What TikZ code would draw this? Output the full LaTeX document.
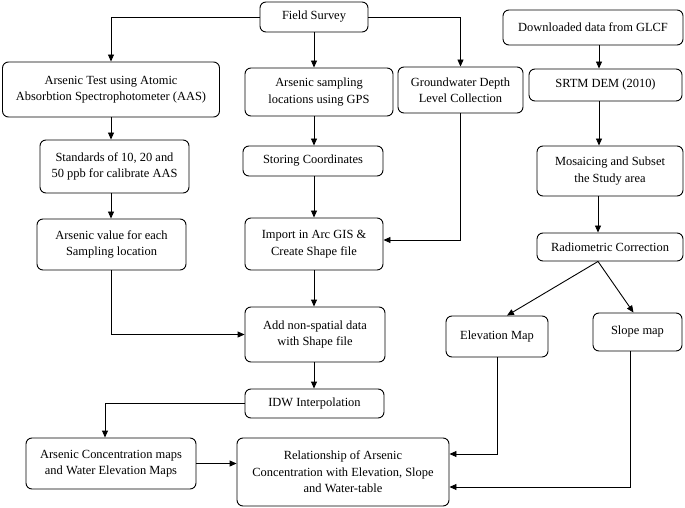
\documentclass[tikz,border=0pt]{standalone}
\usepackage{fontspec}
\setmainfont{Liberation Serif}
\usetikzlibrary{arrows.meta,calc}
\begin{document}
\begin{tikzpicture}[x=1bp,y=-1bp,
  box/.style={draw=black,line width=0.9bp,rounded corners=6bp,align=center,inner sep=0pt,
    font=\fontsize{12.5}{16.5}\selectfont},
  arr/.style={draw=black,line width=0.9bp,-{Triangle[length=7bp,width=6bp]}},
  ln/.style={draw=black,line width=0.9bp}]
\useasboundingbox (0,0) rectangle (685,508);
% left and middle column
\node[box,minimum width=108bp,minimum height=30bp] (fs) at (314,17) {Field Survey};
\node[box,minimum width=217bp,minimum height=55bp] (at) at (111,89.5) {Arsenic Test using Atomic\\Absorbtion Spectrophotometer (AAS)};
\node[box,minimum width=149bp,minimum height=53bp] (std) at (114.5,166.5) {Standards of 10, 20 and\\50 ppb for calibrate AAS};
\node[box,minimum width=149bp,minimum height=51bp] (av) at (111.5,244.5) {Arsenic value for each\\Sampling location};
\node[box,minimum width=148bp,minimum height=48bp] (asl) at (319,92) {Arsenic sampling\\locations using GPS};
\node[box,minimum width=140bp,minimum height=30bp] (sc) at (313,161) {Storing Coordinates};
\node[box,minimum width=138bp,minimum height=52bp] (imp) at (314,244) {Import in Arc GIS \&\\Create Shape file};
\node[box,minimum width=140bp,minimum height=55bp] (add) at (315,334.5) {Add non-spatial data\\with Shape file};
\node[box,minimum width=139bp,minimum height=29bp] (idw) at (314.5,403.5) {IDW Interpolation};
\node[box,minimum width=170bp,minimum height=51bp] (acm) at (111,463.5) {Arsenic Concentration maps\\and Water Elevation Maps};
\node[box,minimum width=212bp,minimum height=68bp] (rel) at (343,472) {Relationship of Arsenic\\Concentration with Elevation, Slope\\and Water-table};
\node[box,minimum width=125bp,minimum height=46bp] (gw) at (460.5,90) {Groundwater Depth\\Level Collection};
% right column
\node[box,minimum width=180bp,minimum height=35bp] (dl) at (593,27.5) {Downloaded data from GLCF};
\node[box,minimum width=153bp,minimum height=32bp] (srtm) at (605.5,85) {SRTM DEM (2010)};
\node[box,minimum width=146bp,minimum height=50bp] (mos) at (610,171) {Mosaicing and Subset\\the Study area};
\node[box,minimum width=146bp,minimum height=28bp] (rad) at (610,247) {Radiometric Correction};
\node[box,minimum width=102bp,minimum height=41bp] (elev) at (497,336.5) {Elevation Map};
\node[box,minimum width=89bp,minimum height=38bp] (slope) at (637.5,332) {Slope map};
% connectors
\draw[arr] (fs.west) -| (at.north);
\draw[arr] (fs.south) -- (fs.south |- asl.north);
\draw[arr] (fs.east) -| (gw.north);
\draw[arr] (at.south) -- (at.south |- std.north);
\draw[arr] (at.south |- std.south) -- (at.south |- av.north);
\draw[arr] (av.south) |- (add.west);
\draw[arr] (fs.south |- asl.south) -- (fs.south |- sc.north);
\draw[arr] (fs.south |- sc.south) -- (fs.south |- imp.north);
\draw[arr] (gw.south) |- ($(imp.east)+(0,-4)$);
\draw[arr] (fs.south |- imp.south) -- (fs.south |- add.north);
\draw[arr] (fs.south |- add.south) -- (fs.south |- idw.north);
\draw[arr] (idw.west) -| ($(acm.north)+(-6,0)$);
\draw[arr] (acm.east) -- (acm.east -| rel.west);
\draw[arr] ($(dl.south)+(6,0)$) -- ($(srtm.north)+(-6.5,0)$);
\draw[arr] ($(srtm.south)+(-6.5,0)$) -- ($(mos.north)+(-11,0)$);
\draw[arr] ($(mos.south)+(-12,0)$) -- ($(rad.north)+(-12,0)$);
\draw[arr] ($(rad.south)+(-12,0)$) -- ($(elev.north)+(10,0)$);
\draw[arr] ($(rad.south)+(-12,0)$) -- ($(slope.north)+(-4,0)$);
\draw[arr] (elev.south) |- ($(rel.east)+(0,-18)$);
\draw[arr] ($(slope.south)+(-7.5,0)$) |- ($(rel.east)+(0,15)$);
\end{tikzpicture}
\end{document}
